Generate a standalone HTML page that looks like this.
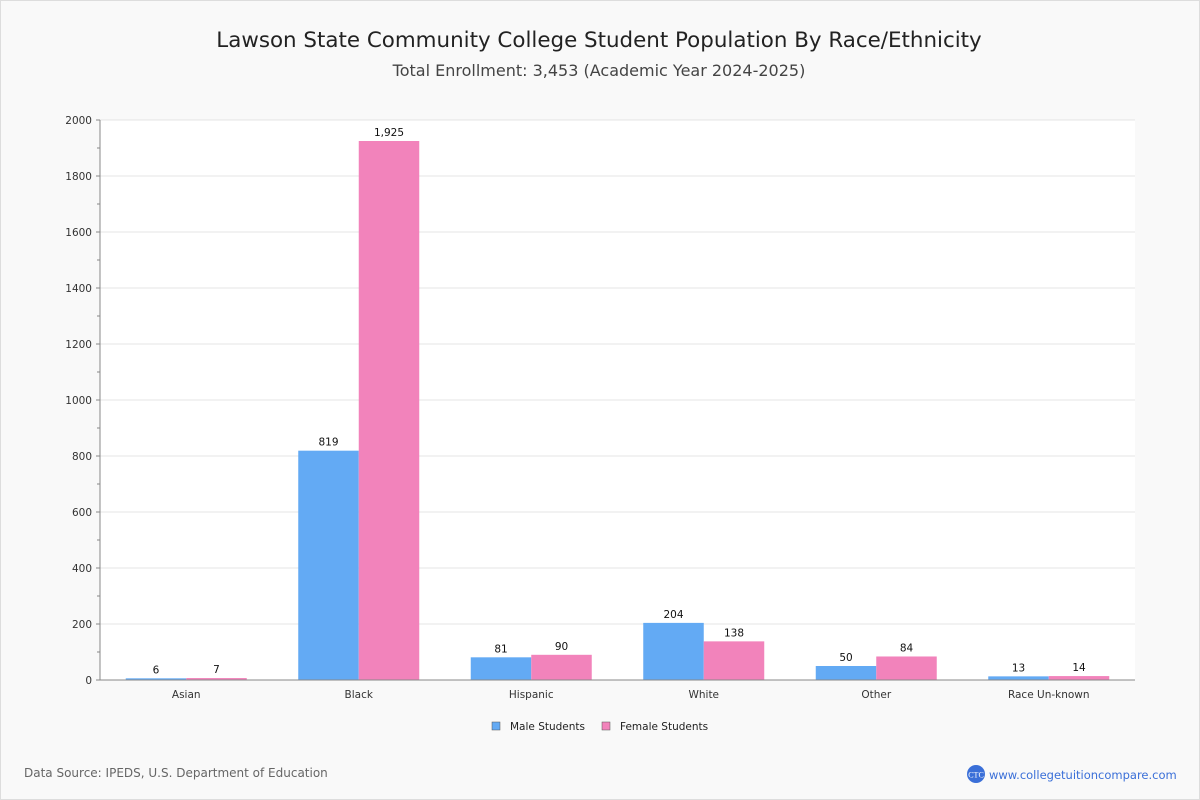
<!DOCTYPE html>
<html><head><meta charset="utf-8"><style>
body{margin:0;background:#fff;font-family:"DejaVu Sans","Liberation Sans",sans-serif;}
#wrap{position:relative;width:1198px;height:798px;background:#f9f9f9;border:1px solid #ddd;}
</style></head><body>
<div id="wrap">
<svg id="chart" width="1200" height="800" style="position:absolute;left:-1px;top:-1px">
<text x="599" y="47" text-anchor="middle" font-size="21.4" fill="#222">Lawson State Community College Student Population By Race/Ethnicity</text>
<text x="599" y="76" text-anchor="middle" font-size="16" fill="#444">Total Enrollment: 3,453 (Academic Year 2024-2025)</text>
<rect x="100" y="120" width="1035" height="560" fill="#fff"/>
<g id="grid"></g><g id="bars"></g><g id="axes"></g>
<g>
<rect x="492" y="722" width="8" height="8" fill="#63aaf4" stroke="#555" stroke-width="0.5"/>
<text x="510" y="730" font-size="10.5" fill="#222">Male Students</text>
<rect x="602" y="722" width="8" height="8" fill="#f283bb" stroke="#555" stroke-width="0.5"/>
<text x="620" y="730" font-size="10.5" fill="#222">Female Students</text>
</g>
<text x="24" y="777" font-size="12" fill="#666">Data Source: IPEDS, U.S. Department of Education</text>
<circle cx="976" cy="774" r="9" fill="#3a6fd8"/>
<text x="976" y="777.5" text-anchor="middle" font-size="8" fill="#fff" font-family="Liberation Serif,serif">CTC</text>
<text x="989" y="779" font-size="11.5" fill="#3a6fd8">www.collegetuitioncompare.com</text>
</svg>
</div>
<script>
const categories=["Asian","Black","Hispanic","White","Other","Race Un-known"];
const maleValues=[6,819,81,204,50,13];
const femaleValues=[7,1925,90,138,84,14];
const yTicks=[0,200,400,600,800,1000,1200,1400,1600,1800,2000];
const NS="http://www.w3.org/2000/svg";
const X0=100,X1=1135,Y0=680,Y1=120,YMAX=2000;
const y=v=>Y0-(v/YMAX)*(Y0-Y1);
const band=(X1-X0)/categories.length;
const xc=i=>X0+band*(i+0.5);
function mk(tag,attrs,parent){const e=document.createElementNS(NS,tag);for(const k in attrs)e.setAttribute(k,attrs[k]);parent.appendChild(e);return e;}
const grid=document.getElementById('grid'),bars=document.getElementById('bars'),axes=document.getElementById('axes');
yTicks.forEach(t=>{
 if(t>0){const g=mk('line',{x1:X0,x2:X1,y1:y(t),y2:y(t),stroke:'#e4e4e4'},grid);
 
 }
 const tl=mk('text',{x:92,y:y(t)+4,'text-anchor':'end','font-size':10.5,fill:'#333'},axes);tl.textContent=t;
 
 
 mk('line',{x1:96,x2:100,y1:y(t),y2:y(t),stroke:'#888'},axes);
 if(t<YMAX)mk('line',{x1:97,x2:100,y1:y(t+100),y2:y(t+100),stroke:'#888'},axes);
});
const bw=60.5;
categories.forEach((c,i)=>{
 [[maleValues[i],'#63aaf4',-1,'bar-male'],[femaleValues[i],'#f283bb',0,'bar-female']].forEach(([v,col,off,nm])=>{
  const bx=xc(i)+off*bw;
  const r=mk('rect',{x:bx,y:y(v),width:bw,height:Y0-y(v),fill:col},bars);
  
  
  const t=mk('text',{x:bx+bw/2,y:y(v)-5,'text-anchor':'middle','font-size':10.5,fill:'#111'},bars);
  t.textContent=v.toLocaleString('en-US');
  
  
 });
 const xl=mk('text',{x:xc(i),y:698,'text-anchor':'middle','font-size':10.5,fill:'#333'},axes);xl.textContent=c;
 
 
});
const ya=mk('line',{x1:X0,x2:X0,y1:Y1,y2:Y0,stroke:'#888'},axes);


const xa=mk('line',{x1:X0,x2:X1,y1:Y0,y2:Y0,stroke:'#888'},axes);


</script>
</body></html>
